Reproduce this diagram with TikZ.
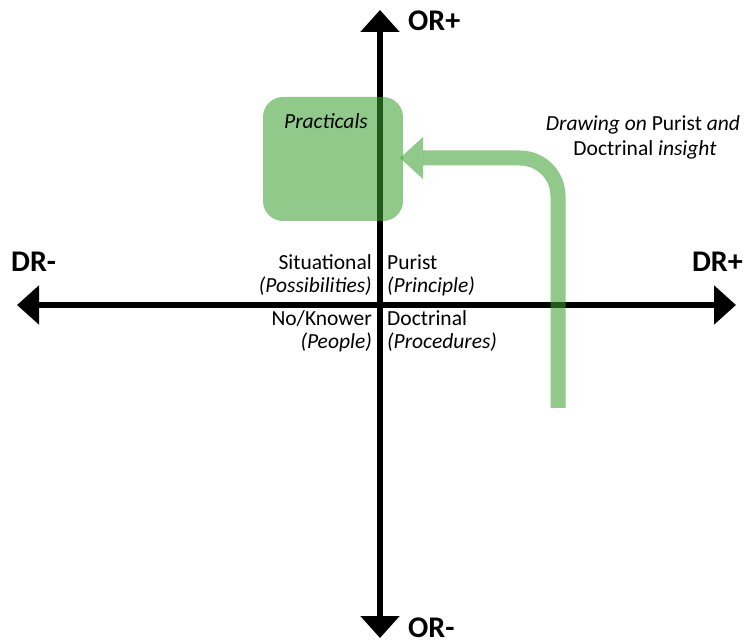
\documentclass[tikz,border=0pt]{standalone}
\usepackage{fontspec}
\setmainfont{Carlito}
\usetikzlibrary{arrows.meta}
\definecolor{grn}{RGB}{60,160,50}
\begin{document}
\begin{tikzpicture}[x=1pt,y=-1pt,
  axis/.style={line width=6pt,{Triangle[width=38pt,length=22pt]}-{Triangle[width=38pt,length=22pt]}},
  lbl/.style={inner sep=0pt,font=\fontsize{21.5}{25}\selectfont},
  big/.style={inner sep=0pt,font=\fontsize{30}{34}\selectfont\bfseries},
  gpath/.style={draw=grn,draw opacity=0.57,line width=15pt,rounded corners=38pt},
  ghead/.style={fill=grn,fill opacity=0.57},
  gbox/.style={fill=grn,fill opacity=0.57,rounded corners=20pt,minimum width=140pt,minimum height=124pt,inner sep=0pt}]
\useasboundingbox (0,0) rectangle (745,644);
% axes
\coordinate (top) at (380,10);
\coordinate (bot) at (380,638);
\coordinate (left) at (17,305);
\coordinate (right) at (736,305);
\draw[axis] (bot) -- (top);
\draw[axis] (left) -- (right);
% axis labels
\node[big,anchor=base west] (orp) at (408,31) {OR+};
\node[big,anchor=base west] (orm) at (408,637) {OR-};
\node[big,anchor=base west] (drm) at (11,272) {DR-};
\node[big,anchor=base east] (drp) at (743,272) {DR+};
% quadrant labels
\node[lbl,anchor=base east] (sit) at (372,270) {Situational};
\node[lbl,anchor=base east] (pos) at (372,293) {\itshape (Possibilities)};
\node[lbl,anchor=base east] (nok) at (372,326) {No/Knower};
\node[lbl,anchor=base east] (peo) at (372,349) {\itshape (People)};
\node[lbl,anchor=base west] (pur) at (387,270) {Purist};
\node[lbl,anchor=base west] (pri) at (387,293) {\itshape (Principle)};
\node[lbl,anchor=base west] (doc) at (387,326) {Doctrinal};
\node[lbl,anchor=base west] (pro) at (387,349) {\itshape (Procedures)};
% practicals box
\node[gbox] (prac) at (333,159) {};
\node[lbl,anchor=base] (practxt) at (326,129) {\itshape Practicals};
% green arrow
\coordinate (gstart) at (558,408);
\coordinate (gend) at (423,158);
\coordinate (gtip) at (400,158);
\draw[gpath] (gstart) |- (gend);
\path[ghead] ([yshift=-21pt]gend) -- (gtip) -- ([yshift=21pt]gend) -- cycle;
% note
\node[lbl,anchor=base] (note1) at (643,131) {\itshape Drawing on \upshape Purist \itshape and};
\node[lbl,anchor=base] (note2) at (645,156) {Doctrinal \itshape insight};
\end{tikzpicture}
\end{document}
